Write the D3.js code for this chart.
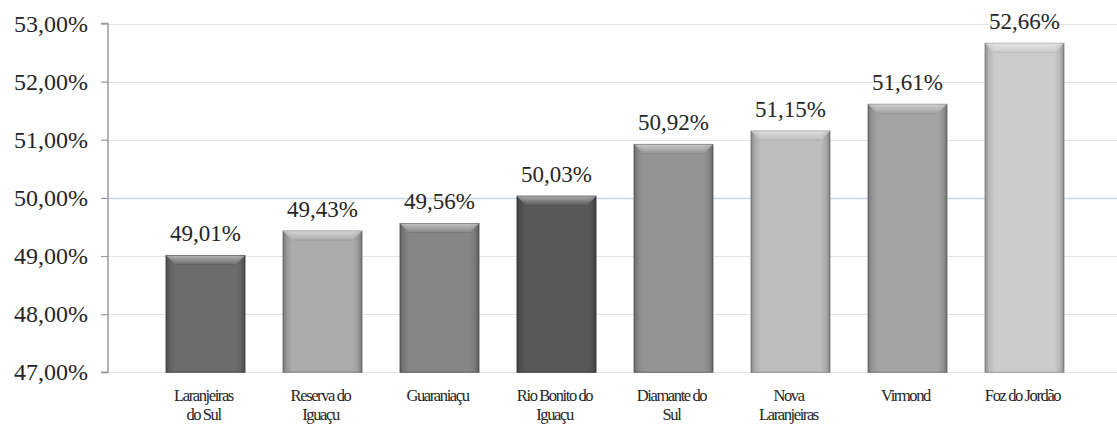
<!DOCTYPE html>
<html>
<head>
<meta charset="utf-8">
<script src="https://cdn.jsdelivr.net/npm/d3@7"></script>
<style>
  html, body { margin: 0; padding: 0; background: #ffffff; }
  svg { display: block; }
  text { font-family: "Liberation Serif", "Times New Roman", serif; fill: #262626; }
</style>
</head>
<body>
<svg id="chart" width="1117" height="424"></svg>
<script>
// ---- data ----
const categories = [
  "Laranjeiras\ndo Sul",
  "Reserva do\nIguaçu",
  "Guaraniaçu",
  "Rio Bonito do\nIguaçu",
  "Diamante do\nSul",
  "Nova\nLaranjeiras",
  "Virmond",
  "Foz do Jordão"
];
const values = [49.01, 49.43, 49.56, 50.03, 50.92, 51.15, 51.61, 52.66];
const barColors = ["#6c6c6c", "#ababab", "#868686", "#595959", "#949494", "#bdbdbd", "#a3a3a3", "#cbcbcb"];
const yTicks = [47, 48, 49, 50, 51, 52, 53];

// ---- setup ----
const svg = d3.select("#chart");
const locale = d3.formatLocale({ decimal: ",", thousands: ".", grouping: [3], currency: ["", ""] });
const fmt = v => locale.format(".2f")(v) + "%";

const axisX = 108, rightX = 1117;
const y = d3.scaleLinear().domain([47, 53]).range([372.3, 23.5]);
const x = d3.scaleBand().domain(categories).range([147, 1083]).paddingInner(0.325).paddingOuter(0.1625);

const defs = svg.append("defs");
const sideGrad = defs.append("linearGradient").attr("id", "sideShade").attr("x1", 0).attr("x2", 1).attr("y1", 0).attr("y2", 0);
[[0, 0.28], [0.05, 0.10], [0.12, 0], [0.88, 0], [0.95, 0.10], [1, 0.30]].forEach(([o, a]) =>
  sideGrad.append("stop").attr("offset", o).attr("stop-color", "#000").attr("stop-opacity", a));
const topGrad = defs.append("linearGradient").attr("id", "topShade").attr("x1", 0).attr("x2", 0).attr("y1", 0).attr("y2", 1);
[[0, 0.5], [0.5, 0.25], [1, 0.02]].forEach(([o, a]) =>
  topGrad.append("stop").attr("offset", o).attr("stop-color", "#fff").attr("stop-opacity", a));

// gridlines
svg.append("g").selectAll("line").data(yTicks).join("line")
  .attr("x1", axisX).attr("x2", rightX)
  .attr("y1", d => Math.round(y(d)) + 0.5).attr("y2", d => Math.round(y(d)) + 0.5)
  .attr("stroke", d => d === 50 ? "#c9d6e6" : "#e1e5ec")
  .attr("stroke-width", d => d === 50 ? 1.6 : 1.2);

// y axis
const yAxis = d3.axisLeft(y).tickValues(yTicks).tickSize(7).tickPadding(13).tickFormat(fmt);
const gy = svg.append("g").attr("transform", `translate(${axisX},0)`).call(yAxis)
  .attr("font-family", null);
gy.select(".domain").attr("stroke", "#9a9a9a").attr("stroke-width", 1.5)
  .attr("d", `M-7,${y(53)}H0V${y(47)}H-7`);
gy.selectAll(".tick line").attr("stroke", "#9a9a9a").attr("stroke-width", 1.2);
gy.selectAll(".tick text").style("font-family", '"Liberation Serif", "Times New Roman", serif')
  .style("font-size", "24px").attr("fill", "#2a2a2a");

// bars
const bars = svg.append("g").selectAll("g").data(categories).join("g");
bars.each(function(c, i) {
  const g = d3.select(this);
  const bx = x(c), bw = x.bandwidth(), by = y(values[i]), bh = y(47) - y(values[i]);
  g.append("rect").attr("x", bx).attr("y", by).attr("width", bw).attr("height", bh)
    .attr("fill", barColors[i]).attr("stroke", d3.color(barColors[i]).darker(0.8)).attr("stroke-width", 1);
  g.append("rect").attr("x", bx).attr("y", by).attr("width", bw).attr("height", bh).attr("fill", "url(#sideShade)");
  const b = 9;
  g.append("path")
    .attr("d", `M${bx},${by}H${bx + bw}L${bx + bw - b},${by + b}H${bx + b}Z`)
    .attr("fill", "url(#topShade)");
  g.append("line").attr("x1", bx + b).attr("x2", bx + bw - b).attr("y1", by + b).attr("y2", by + b)
    .attr("stroke", "#000").attr("stroke-opacity", 0.08);
  g.append("text").attr("x", bx + bw / 2).attr("y", by - 14)
    .attr("text-anchor", "middle").style("font-size", "23px").attr("fill", "#2a2a2a")
    .text(fmt(values[i]));
});

// x labels
const xl = svg.append("g").selectAll("text").data(categories).join("text")
  .attr("text-anchor", "middle")
  .attr("transform", d => `translate(${x(d) + x.bandwidth() / 2 - 2},401)`)
  .style("font-size", "16.5px").style("letter-spacing", "-1.4px").attr("fill", "#1e1e1e");
xl.each(function(d) {
  const t = d3.select(this);
  d.split("\n").forEach((line, k) => {
    t.append("tspan").attr("x", 0).attr("y", k * 18.5).text(line);
  });
});
</script>
</body>
</html>
